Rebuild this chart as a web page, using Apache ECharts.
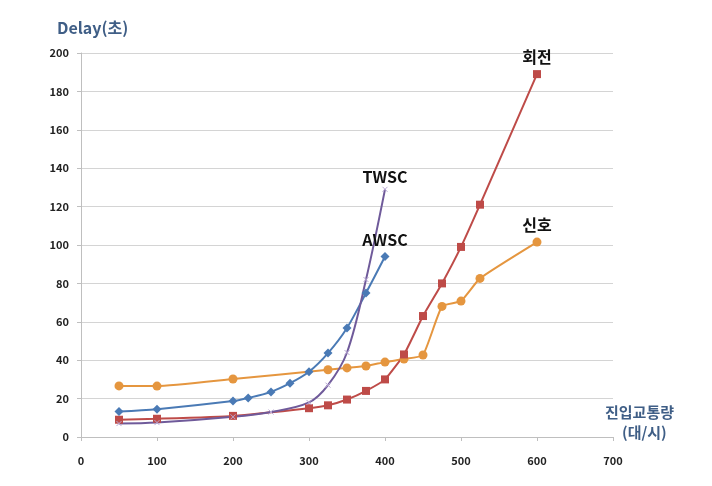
<!DOCTYPE html>
<html><head><meta charset="utf-8">
<script src="https://cdn.jsdelivr.net/npm/echarts@6/dist/echarts.min.js"></script>
<style>html,body{margin:0;padding:0;background:#fff}#c{width:712px;height:486px}</style>
</head><body><div id="c"></div>
<script>
const signalX = [50, 100, 200, 325, 350, 375, 400, 425, 450, 475, 500, 525, 600];
const signalY = [26.6, 26.5, 30.2, 35, 36, 37, 39, 40.6, 42.7, 68, 70.8, 82.6, 101.5];
const rotX = [50, 100, 200, 300, 325, 350, 375, 400, 425, 450, 475, 500, 525, 600];
const rotY = [9, 9.5, 11, 15, 16.5, 19.5, 24, 30, 43, 63, 80, 99, 121, 189];
const awscX = [50, 100, 200, 220, 250, 275, 300, 325, 350, 375, 400];
const awscY = [13.3, 14.5, 18.7, 20.3, 23.5, 28, 34, 43.7, 56.8, 75, 94];
const twscX = [50, 100, 200, 250, 300, 325, 350, 375, 400];
const twscY = [7, 7.5, 10.5, 13, 18, 27, 44, 82, 129];
const seriesNames = ['신호', '회전', 'AWSC', 'TWSC'];
const xTicks = [0, 100, 200, 300, 400, 500, 600, 700];
const yTicks = [0, 20, 40, 60, 80, 100, 120, 140, 160, 180, 200];

const FONT = '"Noto Sans CJK KR", "Noto Sans", sans-serif';
function pairs(xs, ys, name, offset) {
  return xs.map((x, i) => {
    const d = { value: [x, ys[i]] };
    if (i === xs.length - 1) {
      d.label = { show: true, formatter: name, position: 'top', distance: offset,
        fontFamily: FONT, fontWeight: 'bold', fontSize: 16, color: '#111' };
    }
    return d;
  });
}
const xPath = 'path://M0,0L10,10M10,0L0,10';
const chart = echarts.init(document.getElementById('c'), null, { renderer: 'canvas' });
chart.setOption({
  animation: false,
  backgroundColor: '#fff',
  grid: { left: 81, right: 99, top: 53, bottom: 49 },
  graphic: [
    { type: 'text', left: 57, top: 20, style: { text: 'Delay(초)', font: 'bold 16px ' + FONT, fill: '#3f5e86' } },
    { type: 'text', left: 605, top: 405, style: { text: '진입교통량', font: 'bold 15px ' + FONT, fill: '#3f5e86' } },
    { type: 'text', left: 622, top: 425, style: { text: '(대/시)', font: 'bold 15px ' + FONT, fill: '#3f5e86' } }
  ],
  xAxis: {
    type: 'value', min: xTicks[0], max: xTicks[xTicks.length - 1], interval: 100,
    axisLine: { show: true, lineStyle: { color: '#bfbfbf' } },
    axisTick: { show: true, length: 4, lineStyle: { color: '#bfbfbf' } },
    axisLabel: { margin: 18, fontFamily: FONT, fontWeight: 'bold', fontSize: 11, color: '#222' },
    splitLine: { show: false }
  },
  yAxis: {
    type: 'value', min: yTicks[0], max: yTicks[yTicks.length - 1], interval: 20,
    axisLine: { show: true, lineStyle: { color: '#bfbfbf' } },
    axisTick: { show: true, length: 4, lineStyle: { color: '#bfbfbf' } },
    axisLabel: { margin: 12, fontFamily: FONT, fontWeight: 'bold', fontSize: 11, color: '#222' },
    splitLine: { show: true, lineStyle: { color: '#d4d4d4' } }
  },
  series: [
    { name: seriesNames[0], type: 'line', data: pairs(signalX, signalY, seriesNames[0], 5),
      symbol: 'circle', symbolSize: 9, smooth: 0.15,
      lineStyle: { color: '#e5963f', width: 2 }, itemStyle: { color: '#e5963f' } },
    { name: seriesNames[1], type: 'line', data: pairs(rotX, rotY, seriesNames[1], 5),
      symbol: 'rect', symbolSize: 8, smooth: 0.15,
      lineStyle: { color: '#be4b48', width: 2 }, itemStyle: { color: '#be4b48' } },
    { name: seriesNames[2], type: 'line', data: pairs(awscX, awscY, seriesNames[2], 4),
      symbol: 'diamond', symbolSize: 9, smooth: 0.3,
      lineStyle: { color: '#4a7ab5', width: 2 }, itemStyle: { color: '#4a7ab5' } },
    { name: seriesNames[3], type: 'line', data: pairs(twscX, twscY, seriesNames[3], -1),
      symbol: xPath, symbolSize: 5, smooth: 0.35,
      lineStyle: { color: '#6f5a9a', width: 2 },
      itemStyle: { color: 'none', borderColor: '#b9a8d4', borderWidth: 1 } }
  ]
});
</script></body></html>
